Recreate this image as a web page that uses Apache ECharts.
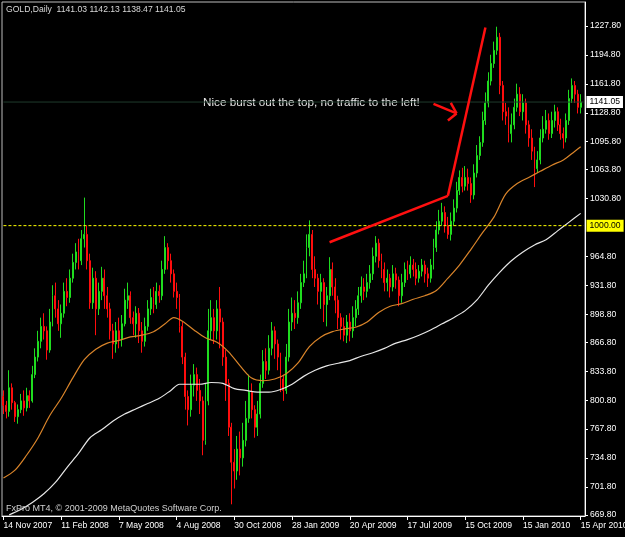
<!DOCTYPE html>
<html>
<head>
<meta charset="utf-8">
<script src="https://cdn.jsdelivr.net/npm/echarts@6/dist/echarts.min.js"></script>
<style>
html,body{margin:0;padding:0;background:#000;}
#chart{width:625px;height:537px;}
</style>
</head>
<body>
<div id="chart"></div>
<script>
// Tick labels
const xLabels = ['14 Nov 2007','11 Feb 2008','7 May 2008','4 Aug 2008','30 Oct 2008','28 Jan 2009','20 Apr 2009','17 Jul 2009','15 Oct 2009','15 Jan 2010','15 Apr 2010'];
const yTicks = [669.8, 701.8, 734.8, 767.8, 800.8, 833.8, 866.8, 898.8, 931.8, 964.8, 1030.8, 1063.8, 1095.8, 1128.8, 1161.8, 1194.8, 1227.8];
const barsPerLabel = 20;
const slotCount = 202;

// Candles: [open, close, low, high]
const candles = [
[805,795,785,812],[795,788,780,800],[788,815,782,835],[815,798,790,820],[798,782,776,800],
[782,790,774,796],[790,800,786,808],[800,792,783,812],[792,806,788,815],[806,800,792,812],
[800,830,798,840],[830,850,826,860],[850,868,845,880],[868,885,860,895],[885,880,870,900],
[880,858,847,885],[858,890,855,905],[890,920,885,932],[920,905,895,935],[905,888,880,915],
[888,900,872,910],[900,925,895,935],[925,918,908,940],[918,940,912,950],[940,958,935,968],
[958,970,950,980],[970,960,950,985],[960,985,955,995],[985,990,975,1032],[990,960,950,1000],
[960,912,905,968],[912,940,905,952],[940,905,875,948],[905,925,898,935],[925,940,915,953],
[940,920,905,950],[920,905,895,930],[905,880,870,912],[880,865,848,888],[865,880,855,890],
[880,870,860,895],[870,888,862,898],[888,915,885,928],[915,920,905,935],[920,895,888,925],
[895,888,875,902],[888,900,872,908],[900,880,866,906],[880,868,855,890],[868,885,862,895],
[885,905,880,915],[905,918,898,928],[918,910,900,930],[910,925,905,935],[925,920,912,932],
[920,950,915,960],[950,975,945,988],[975,960,950,980],[960,945,935,968],[945,925,918,950],
[925,918,905,935],[918,885,878,922],[885,850,842,890],[850,805,790,855],[805,790,772,812],
[790,818,782,830],[818,830,805,842],[830,812,800,838],[812,800,785,825],[800,755,738,805],
[755,800,750,820],[800,880,795,905],[880,895,870,915],[895,880,865,905],[880,905,870,915],
[905,890,860,930],[890,850,840,895],[850,820,800,858],[820,770,760,825],[770,730,682,775],
[730,720,700,745],[720,745,710,760],[745,735,715,765],[735,755,725,775],[755,780,748,800],
[780,810,775,830],[810,790,780,820],[790,770,758,795],[770,785,760,800],[785,820,780,830],
[820,845,815,858],[845,835,825,860],[835,860,830,875],[860,880,852,890],[880,865,848,885],
[865,850,835,870],[850,825,810,855],[825,812,800,830],[812,850,808,865],[850,890,845,905],
[890,900,880,918],[900,895,882,915],[895,912,888,925],[912,935,905,945],[935,945,930,960],
[945,975,940,990],[975,990,965,1006],[990,950,940,995],[950,940,930,965],[940,925,910,945],
[925,935,905,945],[935,910,890,940],[910,920,885,930],[920,950,915,964],[950,930,920,958],
[930,915,900,940],[915,895,882,920],[895,885,870,900],[885,875,868,895],[875,890,866,898],
[890,880,868,900],[880,895,872,908],[895,905,885,915],[905,920,898,930],[920,930,912,942],
[930,925,915,940],[925,935,918,945],[935,945,928,955],[945,965,938,975],[965,980,958,988],
[980,960,952,985],[960,950,940,968],[950,935,925,958],[935,940,925,950],[940,930,918,945],
[930,945,925,955],[945,938,928,952],[938,920,908,942],[920,935,912,945],[935,950,930,958],
[950,945,938,960],[945,955,940,965],[955,950,942,962],[950,940,932,958],[940,948,935,955],
[948,955,942,962],[955,945,935,960],[945,940,930,952],[940,955,935,962],[955,975,950,985],
[975,995,970,1005],[995,1005,990,1018],[1005,1015,1000,1026],[1015,1000,992,1022],[1000,990,985,1010],
[990,1005,983,1015],[1005,1020,1000,1030],[1020,1040,1015,1050],[1040,1055,1035,1063],[1055,1045,1038,1066],
[1045,1055,1040,1068],[1055,1048,1040,1065],[1048,1035,1026,1055],[1035,1060,1030,1070],[1060,1080,1055,1092],
[1080,1095,1075,1102],[1095,1120,1090,1130],[1120,1140,1115,1152],[1140,1165,1135,1175],[1165,1185,1160,1195],
[1185,1200,1180,1210],[1200,1215,1195,1227],[1215,1160,1150,1220],[1160,1130,1120,1165],[1130,1125,1115,1140],
[1125,1105,1095,1135],[1105,1115,1095,1128],[1115,1135,1110,1145],[1135,1150,1130,1162],[1150,1130,1125,1158],
[1130,1140,1120,1150],[1140,1115,1105,1145],[1115,1100,1090,1120],[1100,1085,1075,1110],[1085,1065,1044,1090],
[1065,1075,1060,1085],[1075,1100,1070,1110],[1100,1110,1095,1125],[1110,1120,1105,1132],[1120,1105,1098,1128],
[1105,1120,1100,1130],[1120,1130,1112,1138],[1130,1115,1108,1135],[1115,1105,1098,1122],[1105,1100,1088,1112],
[1100,1120,1095,1128],[1120,1145,1115,1155],[1145,1160,1140,1168],[1160,1150,1140,1165],[1150,1135,1128,1155],
[1135,1141,1128,1150]
];

// Moving averages: [bar index, value]
const maOrange = [[0,712],[4,721],[8,738],[12,758],[16,783],[20,803],[24,826],[28,847],[32,859],[36,866],[40,869],[44,873],[48,875],[52,879],[56,888],[59,895],[62,891],[66,881],[70,872],[74,867],[78,856],[82,840],[86,826],[90,823],[94,825],[98,831],[102,843],[106,862],[110,873],[114,879],[118,882],[122,884],[126,890],[130,901],[134,908],[138,911],[142,916],[146,920],[150,926],[154,940],[158,955],[162,973],[166,992],[170,1010],[174,1036],[178,1048],[182,1055],[186,1062],[190,1069],[194,1075],[198,1085],[200,1090]];
const maWhite = [[2,670],[6,676],[10,684],[14,694],[18,707],[22,724],[26,740],[30,758],[34,767],[38,777],[42,785],[46,791],[50,797],[54,803],[58,812],[61,819],[64,819],[68,819],[72,821],[76,820],[80,814],[84,812],[88,810],[92,810],[96,813],[100,819],[104,828],[108,835],[112,840],[116,843],[120,846],[124,851],[128,855],[132,860],[136,866],[140,870],[144,875],[148,881],[152,888],[156,895],[160,903],[164,915],[168,932],[172,947],[176,960],[180,970],[184,978],[188,984],[192,994],[196,1004],[200,1014]];

// Drawn objects: [bar index, price] pairs
const trendLines = [
  [[113,981],[154,1034]],
  [[154,1034],[167,1226]],
  [[149,1139],[157,1128]],
  [[155,1140],[157,1128]],
  [[154,1120],[157,1128]]
];
const levelLine = 1000.00;
const bidPrice = 1141.05;
const titleText = 'GOLD,Daily  1141.03 1142.13 1138.47 1141.05';
const noteText = 'Nice burst out the top, no traffic to the left!';
const footerText = 'FxPro MT4, \u00a9 2001-2009 MetaQuotes Software Corp.';

const categories = Array.from({length: slotCount}, (_, i) => String(i));
const FONT = 'Liberation Sans';

const chart = echarts.init(document.getElementById('chart'), null, {renderer: 'canvas'});

function hLine(price, color, dash, bg) {
  return {
    type: 'line', data: [[0, price], [slotCount - 1, price]], showSymbol: false, silent: true, z: 4,
    color: color, itemStyle: {color: color},
    lineStyle: {color: color, type: dash, width: 1, opacity: 1},
    endLabel: {show: true, formatter: price.toFixed(2), color: '#000', backgroundColor: bg,
      padding: [2, 3, 1, 3], fontSize: 8.6, fontFamily: FONT, distance: 3}
  };
}

chart.setOption({
  animation: false,
  backgroundColor: '#000000',
  grid: {left: 2, top: 2, right: 40, bottom: 21, containLabel: false, outerBoundsMode: 'none',
    show: true, borderColor: '#bdbdbd', borderWidth: 1, backgroundColor: 'transparent'},
  xAxis: {
    type: 'category', data: categories, boundaryGap: true,
    axisLine: {show: true, lineStyle: {color: '#ffffff'}},
    axisTick: {show: true, alignWithLabel: true, length: 4, interval: (i) => i % barsPerLabel === 0, lineStyle: {color: '#ffffff'}},
    axisLabel: {show: true, interval: (i) => i % barsPerLabel === 0, formatter: (v, i) => xLabels[Math.round(i / barsPerLabel)] || '',
      showMinLabel: true, showMaxLabel: true, hideOverlap: false,
      align: 'left', color: '#ffffff', fontSize: 8.6, fontFamily: FONT, margin: 5},
    splitLine: {show: false}
  },
  yAxis: {
    type: 'value', position: 'right', min: 668.66, max: 1255.2, scale: true,
    axisLine: {show: true, lineStyle: {color: '#ffffff'}},
    axisTick: {show: true, length: 3, customValues: yTicks, lineStyle: {color: '#ffffff'}},
    axisLabel: {show: true, customValues: yTicks, formatter: v => v.toFixed(2), color: '#ffffff', fontSize: 8.6, fontFamily: FONT, margin: 5, align: 'left'},
    splitLine: {show: false}
  },
  series: [
    hLine(bidPrice, '#1f3a2b', 'solid', '#ffffff'),
    hLine(levelLine, '#ffff00', [3, 2], '#ffff00'),
    {
      type: 'candlestick', data: candles, barMaxWidth: 2, barMinWidth: 1, z: 2,
      itemStyle: {color: '#1fdc1f', color0: '#ff0d0d', borderColor: '#1fdc1f', borderColor0: '#ff0d0d', borderWidth: 1},
      markLine: {silent: true, symbol: ['none', 'none'], animation: false,
        lineStyle: {color: '#ff1010', width: 2.5, type: 'solid', opacity: 1}, label: {show: false},
        data: trendLines.map(seg => [{coord: seg[0]}, {coord: seg[1]}])}
    },
    {type: 'line', data: maOrange, showSymbol: false, smooth: 0.3, lineStyle: {color: '#d9842a', width: 1.2}, z: 3},
    {type: 'line', data: maWhite, showSymbol: false, smooth: 0.3, lineStyle: {color: '#e6e6e6', width: 1.2}, z: 3}
  ],
  graphic: [
    {type: 'text', left: 6, top: 5, style: {text: titleText, fill: '#d8d8d8', font: '8.6px "' + FONT + '"'}},
    {type: 'text', left: 203, top: 97, style: {text: noteText, fill: '#e6e6e6', font: '11.7px "' + FONT + '"'}},
    {type: 'text', left: 6, top: 504, style: {text: footerText, fill: '#d0d0d0', font: '9px "' + FONT + '"'}}
  ]
});
</script>
</body>
</html>
